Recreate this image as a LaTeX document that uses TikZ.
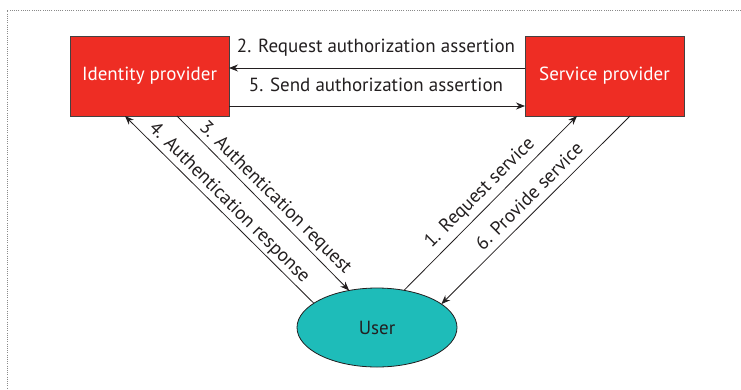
\documentclass[tikz,border=0pt]{standalone}
\usepackage{fontspec}
\setmainfont{PT Sans}
\usetikzlibrary{arrows.meta,shapes.geometric,shadows}
\definecolor{boxred}{HTML}{EE2D24}
\definecolor{userteal}{HTML}{1EBCB9}
\definecolor{ink}{HTML}{231F20}
\definecolor{framegray}{HTML}{8A8A8A}
\tikzset{
  party/.style={rectangle, fill=boxred, draw=ink!85, line width=1pt,
    minimum width=159pt, minimum height=80pt, inner sep=0pt, outer sep=0pt,
    text=white, font=\fontsize{19}{22}\selectfont,
    drop shadow={shadow xshift=1.2pt, shadow yshift=-1.2pt, opacity=0.35, fill=black}},
  usernode/.style={ellipse, fill=userteal, draw=ink, line width=0.8pt,
    minimum width=160pt, minimum height=79pt, inner sep=0pt, outer sep=0pt,
    text=ink, font=\fontsize{19}{22}\selectfont},
  flow/.style={draw=ink, line width=0.8pt, -{Stealth[length=9pt,width=7pt]}},
  msg/.style={text=ink, font=\fontsize{19}{22}\selectfont, inner sep=0pt},
  frame/.style={draw=framegray, line width=0.9pt, dash pattern=on 1pt off 1.2pt}
}
\begin{document}
\begin{tikzpicture}[x=1pt, y=-1pt]
  \useasboundingbox (0,0) rectangle (741,389);
  % dotted page frame (top and left edges)
  \coordinate (ftr) at (741,10.5);
  \coordinate (ftl) at (7,10.5);
  \coordinate (fbl) at (7,389);
  \draw[frame] (ftr) -- (ftl) -- (fbl);

  % parties
  \node[party] (idp) at (149.5,76) {Identity provider};
  \node[party] (sp)  at (604.5,76) {Service provider};
  \node[usernode] (user) at (377,327.5) {User};

  % provider-to-provider messages
  \draw[flow] ([yshift=8pt]sp.west) -- ([yshift=8pt]idp.east);
  \draw[flow] ([yshift=-30pt]idp.east) -- ([yshift=-30pt]sp.west);
  \node[msg] (m2) at (376,48) {2. Request authorization assertion};
  \node[msg] (m5) at (376,85) {5. Send authorization assertion};

  % user / identity provider
  \draw[flow] ([xshift=27.5pt]idp.south) -- (user.127);
  \draw[flow] (user.159.4) -- ([xshift=-24.5pt]idp.south);
  \node[msg, rotate=-45] (m3) at (275,198) {3. Authentication request};
  \node[msg, rotate=-45] (m4) at (229,203) {4. Authentication response};

  % user / service provider
  \draw[flow] (user.54.7) -- ([xshift=-27.5pt]sp.south);
  \draw[flow] ([xshift=25.5pt]sp.south) -- (user.20.4);
  \node[msg, rotate=45] (m1) at (480,193) {1. Request service};
  \node[msg, rotate=45] (m6) at (529,196) {6. Provide service};
\end{tikzpicture}
\end{document}
